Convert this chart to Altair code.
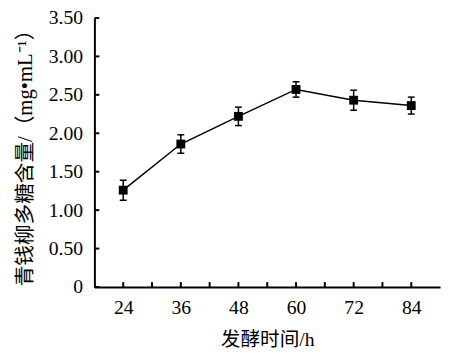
import altair as alt
import pandas as pd

hours = [24, 36, 48, 60, 72, 84]
content = [1.26, 1.86, 2.22, 2.57, 2.43, 2.36]
err = [0.13, 0.12, 0.12, 0.10, 0.13, 0.11]
x_tick_values = [24, 30, 36, 42, 48, 54, 60, 66, 72, 78, 84]
y_tick_values = [0, 0.5, 1.0, 1.5, 2.0, 2.5, 3.0, 3.5]

df = pd.DataFrame({
    "h": hours,
    "v": content,
    "lo": [c - e for c, e in zip(content, err)],
    "hi": [c + e for c, e in zip(content, err)],
})

W, H = 352, 274
LATIN = "Liberation Serif"
MIXED = "Liberation Serif, Noto Sans CJK SC"

xs = alt.Scale(domain=[18, 90], nice=False, zero=False)
ys = alt.Scale(domain=[0, 3.5], nice=False)

x_axis = alt.Axis(values=hours, title="发酵时间/h", ticks=False, grid=False,
                  domainColor="black", domainWidth=2, labelFont=LATIN, labelFontSize=20,
                  labelColor="black", labelPadding=11, labelOverlap=False, labelBound=False,
                  titleFont=MIXED, titleFontSize=20,
                  titleFontWeight="normal", titleColor="black", titlePadding=13)
y_axis = alt.Axis(values=y_tick_values, title="青钱柳多糖含量/（mg•mL⁻¹）", ticks=False, grid=False,
                  labelExpr="datum.value == 0 ? '0' : format(datum.value, '.2f')",
                  labelOverlap=False, labelBound=False, labelFlush=False,
                  domainColor="black", domainWidth=2, labelFont=LATIN, labelFontSize=20,
                  labelColor="black", labelPadding=12, titleFont=MIXED, titleFontSize=21,
                  titleFontWeight="normal", titleColor="black", titlePadding=13)

X = lambda f: alt.X(f, scale=xs, axis=x_axis)
Y = lambda f: alt.Y(f, scale=ys, axis=y_axis)

base = alt.Chart(df)
line = base.mark_line(color="black", strokeWidth=1.5).encode(
    x=X("h:Q"), y=Y("v:Q"))
bars = base.mark_rule(color="black", strokeWidth=1.5).encode(
    x=X("h:Q"), y=Y("lo:Q"), y2="hi:Q")
cap_lo = base.mark_tick(color="black", orient="horizontal", size=7, thickness=1.5, opacity=1).encode(
    x=X("h:Q"), y=Y("lo:Q"))
cap_hi = base.mark_tick(color="black", orient="horizontal", size=7, thickness=1.5, opacity=1).encode(
    x=X("h:Q"), y=Y("hi:Q"))
pts = base.mark_square(size=81, color="black", opacity=1).encode(
    x=X("h:Q"), y=Y("v:Q"))

yticks = alt.Chart(pd.DataFrame({"t": y_tick_values})).mark_rule(color="black", strokeWidth=2).encode(
    y=Y("t:Q"), x=alt.value(0), x2=alt.value(5))
xticks = alt.Chart(pd.DataFrame({"t": x_tick_values})).mark_rule(color="black", strokeWidth=2).encode(
    x=X("t:Q"), y=alt.value(H), y2=alt.value(H - 5))

chart = alt.layer(line, bars, cap_lo, cap_hi, pts, yticks, xticks).properties(
    width=W, height=H,
    autosize=alt.AutoSizeParams(type="none"),
    padding={"left": 88, "top": 7, "right": 3, "bottom": 60},
).configure_view(strokeWidth=0)

chart.save("out.html", embed_options={"renderer": "svg", "actions": False})
